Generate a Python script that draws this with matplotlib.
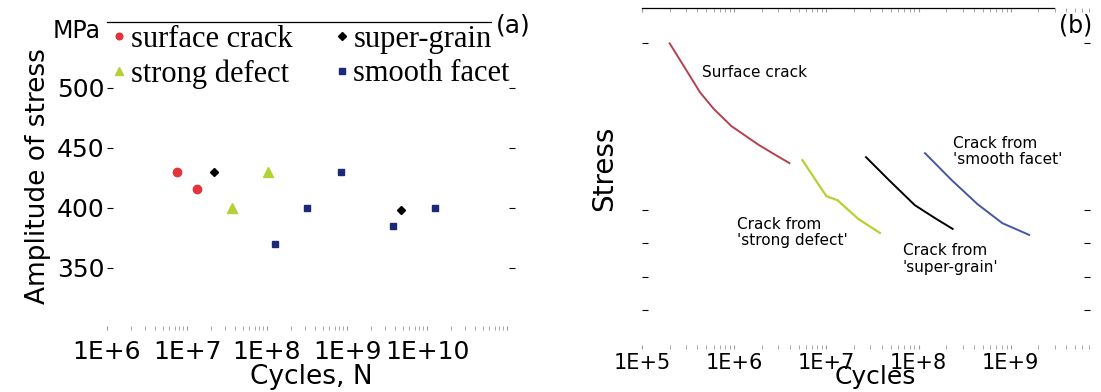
import matplotlib
matplotlib.use("Agg")
import matplotlib.pyplot as plt
import numpy as np
from matplotlib.ticker import FuncFormatter, LogLocator, NullFormatter

# (a) experimental points: cycles to failure and stress amplitude (MPa)
surface_N = [7.5e6, 1.33e7]
surface_S = [430, 416]
grain_N = [2.2e7, 4.8e9]
grain_S = [430, 398]
defect_N = [3.6e7, 1.02e8]
defect_S = [400, 430]
facet_N = [1.26e8, 3.2e8, 8.5e8, 3.8e9, 1.26e10]
facet_S = [370, 400, 430, 385, 400]

# (b) schematic S-N curves (log10 cycles, stress in arbitrary units)
surf_logN = [5.30, 5.48, 5.63, 5.78, 5.97, 6.27, 6.47, 6.60]
surf_S = [8.99, 8.19, 7.52, 7.02, 6.51, 5.94, 5.61, 5.40]
defect_logN = [6.74, 7.00, 7.12, 7.35, 7.58]
defect_S2 = [5.49, 4.41, 4.29, 3.72, 3.31]
grain_logN = [7.43, 7.68, 7.96, 8.18, 8.37]
grain_S2 = [5.58, 4.89, 4.14, 3.75, 3.43]
facet_logN = [8.07, 8.36, 8.64, 8.91, 9.20]
facet_S2 = [5.70, 4.89, 4.17, 3.60, 3.25]

RED = "#e3333b"
GREEN = "#b3d235"
NAVY = "#1b2878"

W, H = 1101, 392
fig = plt.figure(figsize=(W / 100, H / 100), dpi=100)

def ax_rect(x0, y0, x1, y1):
    return [x0 / W, 1 - y1 / H, (x1 - x0) / W, (y1 - y0) / H]

def dec_label(v, pos, vmax):
    e = int(round(np.log10(v)))
    if v > vmax * 1.01:
        return ""
    return "1E+%d" % e

# ---------------- panel (a) ----------------
ax = fig.add_axes(ax_rect(107, 22, 515, 330))
ax.set_xscale("log")
ax.set_xlim(1e6, 10 ** 11.1)
ax.set_ylim(298, 555)

ax.plot(surface_N, surface_S, "o", color=RED, ms=6, label="surface crack")
ax.plot(defect_N, defect_S, "^", color=GREEN, ms=7, label="strong defect")
ax.plot(grain_N, grain_S, "D", color="black", ms=4.5, label="super-grain")
ax.plot(facet_N, facet_S, "s", color=NAVY, ms=5, label="smooth facet")

for s in ["left", "right", "bottom"]:
    ax.spines[s].set_visible(False)
ax.spines["top"].set_bounds(1e6, 10 ** 10.8)
ax.spines["top"].set_linewidth(0.9)
ax.set_yticks([350, 400, 450, 500])
ax.tick_params(axis="y", direction="in", right=True, length=4, labelsize=18, pad=2)
ax.xaxis.set_major_locator(LogLocator(base=10, numticks=12))
ax.xaxis.set_minor_locator(LogLocator(base=10, subs=np.arange(2, 10), numticks=12))
ax.xaxis.set_minor_formatter(NullFormatter())
ax.xaxis.set_major_formatter(FuncFormatter(lambda v, p: dec_label(v, p, 1e10)))
ax.tick_params(axis="x", which="both", direction="in", top=False, color="#999999",
               length=3, labelsize=18, pad=7)
ax.set_xlabel("Cycles, N", fontsize=19, labelpad=0)
ax.set_ylabel("Amplitude of stress", fontsize=19, labelpad=4)
fig.text(53 / W, 1 - 31 / H, "MPa", fontsize=17, va="center", ha="left")
fig.text(496 / W, 1 - 26 / H, "(a)", fontsize=18, va="center", ha="left")

leg = ax.legend(loc="upper left", bbox_to_anchor=(0.017, 0.99), ncol=2, frameon=False,
                prop={"family": "Liberation Serif", "size": 22},
                handlelength=0.35, handletextpad=0.2, columnspacing=1.45,
                labelspacing=0.17, borderaxespad=0.0, borderpad=0.0, markerscale=0.8)

# ---------------- panel (b) ----------------
bx = fig.add_axes(ax_rect(642, 8, 1090, 349))
bx.set_xscale("log")
bx.set_xlim(1e5, 10 ** 9.86)
bx.set_ylim(-0.17, 10.05)

bx.plot(10 ** np.array(surf_logN), surf_S, color="#b8404c", lw=1.4)
bx.plot(10 ** np.array(defect_logN), defect_S2, color=GREEN, lw=1.6)
bx.plot(10 ** np.array(grain_logN), grain_S2, color="black", lw=1.4)
bx.plot(10 ** np.array(facet_logN), facet_S2, color="#4656a6", lw=1.4)

tfs = 11
bx.text(10 ** 5.65, 8.13, "Surface crack", fontsize=tfs, va="center", ha="left")
bx.text(10 ** 8.37, 5.76, "Crack from\n'smooth facet'", fontsize=tfs, va="center", ha="left",
        linespacing=1.1)
bx.text(10 ** 6.03, 3.31, "Crack from\n'strong defect'", fontsize=tfs, va="center", ha="left",
        linespacing=1.1)
bx.text(10 ** 7.83, 2.53, "Crack from\n'super-grain'", fontsize=tfs, va="center", ha="left",
        linespacing=1.1)

for s in ["left", "right", "bottom"]:
    bx.spines[s].set_visible(False)
bx.spines["top"].set_bounds(1e5, 10 ** 9.47)
bx.spines["top"].set_linewidth(0.9)
bx.set_yticks([1, 2, 3, 4, 9])
bx.yaxis.set_major_formatter(NullFormatter())
bx.tick_params(axis="y", direction="in", right=True, length=4)
bx.xaxis.set_major_locator(LogLocator(base=10, numticks=12))
bx.xaxis.set_minor_locator(LogLocator(base=10, subs=np.arange(2, 10), numticks=12))
bx.xaxis.set_minor_formatter(NullFormatter())
bx.xaxis.set_major_formatter(FuncFormatter(lambda v, p: dec_label(v, p, 1e9)))
bx.tick_params(axis="x", which="both", direction="in", top=True, color="#999999",
               length=3, labelsize=15, pad=3)
bx.set_xlabel("Cycles", fontsize=18)
bx.xaxis.set_label_coords(0.52, -0.1185, transform=bx.transAxes)
bx.xaxis.label.set_va("bottom")
bx.set_ylabel("Stress", fontsize=20)
bx.yaxis.set_label_coords(-0.053, 0.53, transform=bx.transAxes)
fig.text(1059 / W, 1 - 25 / H, "(b)", fontsize=17, va="center", ha="left")

fig.savefig("out.png", dpi=100)
